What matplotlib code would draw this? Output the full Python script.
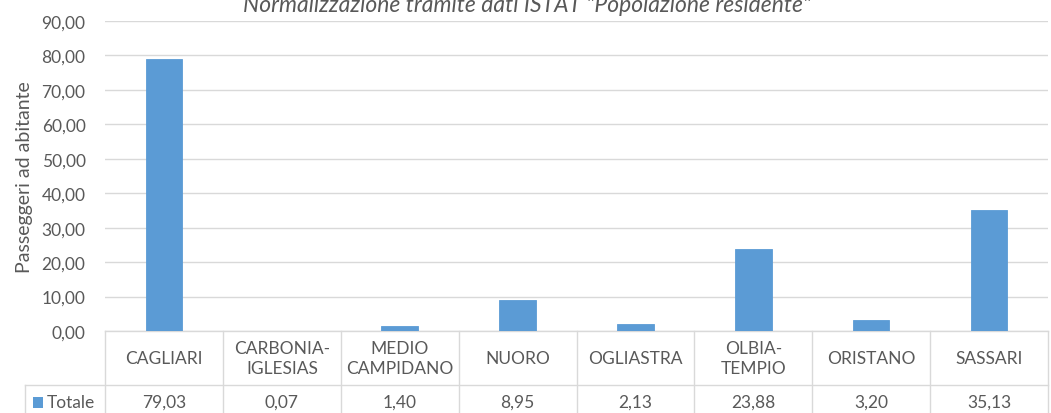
# grafico passeggeri ad abitante per provincia (Sardegna)
import matplotlib.pyplot as plt
from matplotlib.patches import Rectangle
from matplotlib.transforms import blended_transform_factory

province = ['CAGLIARI', 'CARBONIA-\nIGLESIAS', 'MEDIO\nCAMPIDANO', 'NUORO',
            'OGLIASTRA', 'OLBIA-\nTEMPIO', 'ORISTANO', 'SASSARI']
totale = [79.03, 0.07, 1.40, 8.95, 2.13, 23.88, 3.20, 35.13]
yticks = [0, 10, 20, 30, 40, 50, 60, 70, 80, 90]

blu = '#5B9BD5'
grigio = '#595959'
linea = '#D9D9D9'
plt.rcParams['font.family'] = ['Lato', 'DejaVu Sans']

fig = plt.figure(figsize=(10.51, 4.14), dpi=100)
ax = fig.add_axes([105 / 1051, 1 - 332 / 414, (1048 - 105) / 1051, 310 / 414])

x = range(len(province))
ax.bar(x, totale, width=0.31, color=blu, edgecolor=blu, linewidth=0.6, zorder=3)
ax.set_xlim(-0.5, len(province) - 0.5)
ax.set_ylim(0, 90)
ax.set_yticks(yticks)
ax.set_yticklabels([f'{v:.2f}'.replace('.', ',') for v in yticks], fontsize=12.5, color=grigio)
ax.set_xticks([])
ax.tick_params(axis='y', length=0, pad=14)
ax.grid(axis='y', color=linea, linewidth=1, zorder=0)
for s in ax.spines.values():
    s.set_visible(False)
ax.set_ylabel('Passeggeri ad abitante', fontsize=14, color=grigio, labelpad=6)

# titolo (tagliato in alto come nell'originale)
fig.text(527 / 1051, 1 - 6 / 414, 'Normalizzazione tramite dati ISTAT "Popolazione residente"',
         ha='center', va='center', fontsize=16.5, style='italic', color=grigio)

# tabella dati sotto il grafico
tr = blended_transform_factory(ax.transData, ax.transAxes)
h1 = 54 / 310   # altezza riga categorie
h2 = 40 / 310   # altezza riga valori
n = len(province)
kw = dict(color=linea, linewidth=1, clip_on=False, transform=tr)
ax.plot([-0.5, n - 0.5], [0, 0], **kw)
ax.plot([-0.5 - 80 / 117.9, n - 0.5], [-h1, -h1], **kw)
for i in range(n + 1):
    ax.plot([i - 0.5, i - 0.5], [0, -h1 - h2], **kw)
ax.plot([-0.5 - 80 / 117.9] * 2, [-h1, -h1 - h2], **kw)

for i, (p, v) in enumerate(zip(province, totale)):
    ax.text(i, -h1 / 2, p, ha='center', va='center', fontsize=12.5, color=grigio,
            transform=tr, linespacing=1.25)
    ax.text(i, -h1 - 17 / 310, f'{v:.2f}'.replace('.', ','), ha='center', va='center',
            fontsize=12.5, color=grigio, transform=tr)

ax.add_patch(Rectangle((-0.5 - 72 / 117.9, -h1 - 23 / 310), 10 / 117.9, 11 / 310,
                       facecolor=blu, edgecolor='none', transform=tr, clip_on=False))
ax.text(-0.5 - 58 / 117.9, -h1 - 17 / 310, 'Totale', ha='left', va='center',
        fontsize=12.5, color=grigio, transform=tr)

plt.savefig('out.png', dpi=100)
